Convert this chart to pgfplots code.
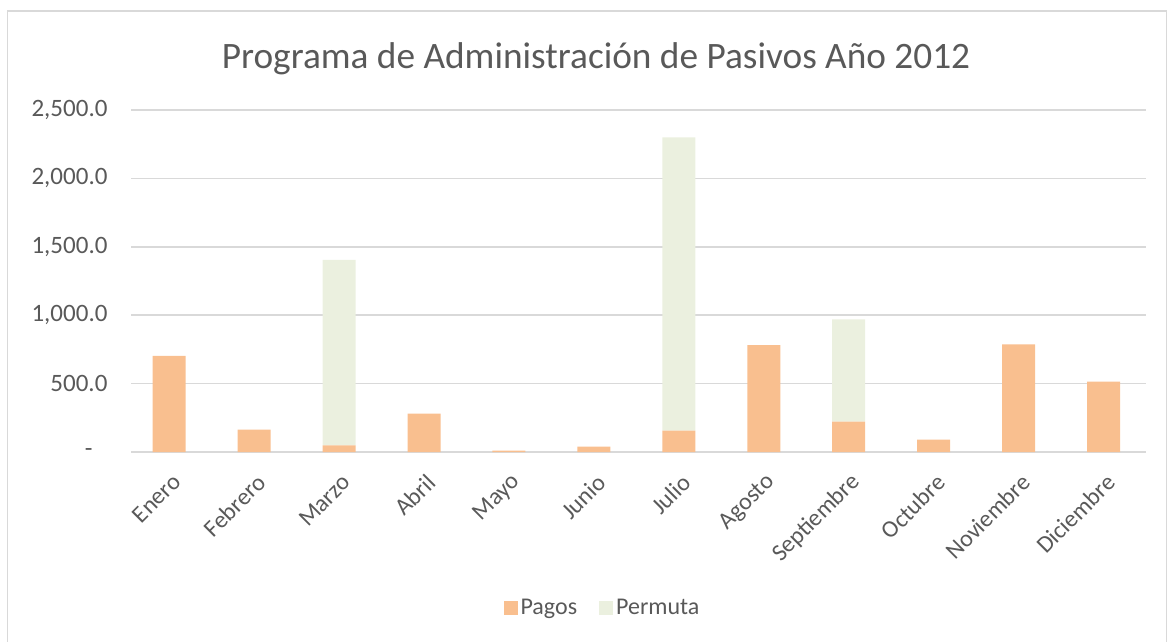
\documentclass[border=0pt]{standalone}
\usepackage{pgfplots}
\pgfplotsset{compat=1.18}
\usepackage{fontspec}
\setmainfont{Carlito}
\definecolor{pagos}{RGB}{249,191,143}
\definecolor{permuta}{RGB}{235,240,223}
\definecolor{txt}{RGB}{89,89,89}
\definecolor{gridc}{RGB}{217,217,217}
\begin{document}
\begin{tikzpicture}[x=1pt,y=1pt]
\path[use as bounding box] (0,0) rectangle (1174,-641);
\draw[gridc, line width=1.5pt] (7.5,-11) rectangle (1166.5,-680);
\node[anchor=base, text=txt, font=\fontsize{37.3}{41}\selectfont, inner sep=0pt] at (596,-68) {Programa de Administración de Pasivos Año 2012};
\begin{axis}[
  at={(131pt,-452pt)}, anchor=south west,
  scale only axis, width=1015pt, height=342pt,
  ybar stacked, bar width=33pt,
  xmin=-0.45, xmax=11.5, ymin=0, ymax=2500,
  axis line style={draw=none},
  major tick length=0pt,
  ymajorgrids, major grid style={gridc, line width=1.5pt},
  ytick={0,500,1000,1500,2000,2500},
  yticklabels={{-\kern15pt},500.0,{1,000.0},{1,500.0},{2,000.0},{2,500.0}},
  yticklabel style={text=txt, font=\fontsize{25}{29}\selectfont, xshift=-20pt},
  xtick={0,...,11},
  xticklabels={Enero,Febrero,Marzo,Abril,Mayo,Junio,Julio,Agosto,Septiembre,Octubre,Noviembre,Diciembre},
  xticklabel style={text=txt, font=\fontsize{24}{28}\selectfont, rotate=45, anchor=east, xshift=-10pt, yshift=-24pt},
  legend style={draw=none, fill=none, at={(0.465,-0.456)}, anchor=center, legend columns=2,
    font=\fontsize{24}{28}\selectfont, text=txt,
    /tikz/every even column/.append style={column sep=19pt},
    nodes={inner xsep=3pt}},
  legend image code/.code={\fill[#1] (0pt,-7pt) rectangle (14pt,7pt);},
]
\addplot[fill=pagos, draw=none] coordinates {(0,702) (1,163) (2,48) (3,280) (4,10) (5,40) (6,157) (7,781) (8,223) (9,91) (10,786) (11,515)};
\addlegendentry{Pagos}
\addplot[fill=permuta, draw=none] coordinates {(0,0) (1,0) (2,1357) (3,0) (4,0) (5,0) (6,2143) (7,0) (8,746) (9,0) (10,0) (11,0)};
\addlegendentry{Permuta}
\end{axis}
\end{tikzpicture}
\end{document}
